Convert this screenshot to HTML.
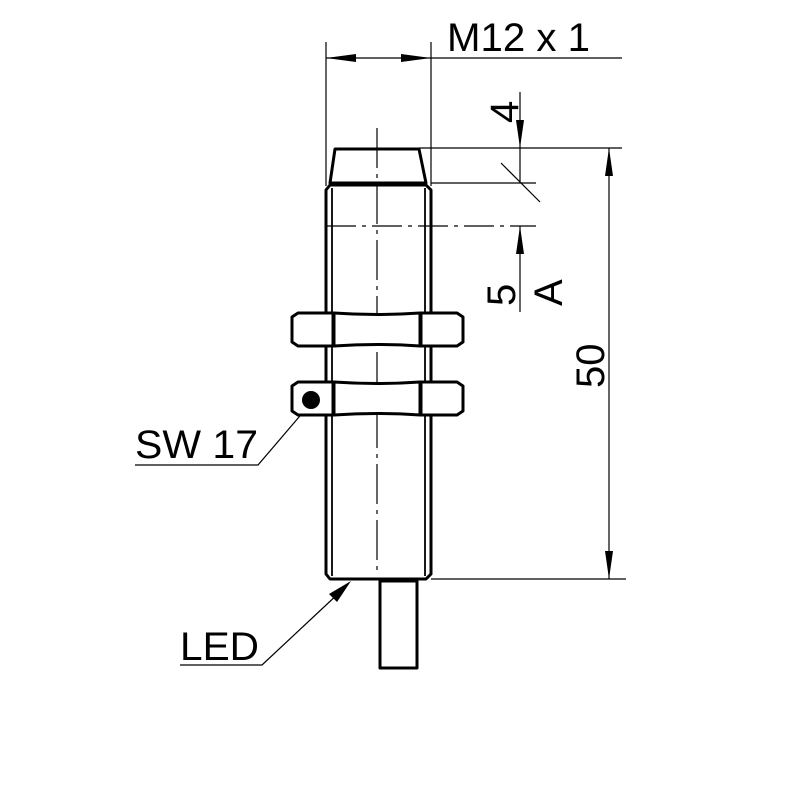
<!DOCTYPE html>
<html><head><style>body{margin:0;background:#fff}</style></head><body>
<svg width="800" height="800" viewBox="0 0 800 800" xmlns="http://www.w3.org/2000/svg" font-family="Liberation Sans, sans-serif">
<g stroke="#000" fill="none" stroke-width="1.2">
<line x1="326" y1="42" x2="326" y2="186"/>
<line x1="431" y1="42" x2="431" y2="186"/>
<line x1="326" y1="58" x2="622" y2="58"/>
<line x1="419" y1="148" x2="622" y2="148"/>
<line x1="431" y1="183" x2="536" y2="183"/>
<line x1="326" y1="226" x2="536" y2="226" stroke-dasharray="30,6,4,6"/>
<line x1="431" y1="579" x2="626" y2="579"/>
<line x1="520" y1="92" x2="520" y2="148"/>
<line x1="520" y1="148" x2="520" y2="183"/>
<line x1="501" y1="163" x2="540" y2="202"/>
<line x1="520" y1="226" x2="520" y2="312"/>
<line x1="609" y1="148" x2="609" y2="579"/>
<line x1="377" y1="128" x2="377" y2="572" stroke-dasharray="40,6,4,6"/>
<polyline points="135,465 258,465 305,410"/>
<polyline points="180,665 262,665 340,592"/>
</g>
<g fill="#000">
<polygon points="326,58 356,54 356,62"/>
<polygon points="431,58 401,54 401,62"/>
<polygon points="520,148 516,120 524,120"/>
<polygon points="520,226 516,254 524,254"/>
<polygon points="609,148 605,176 613,176"/>
<polygon points="609,579 605,551 613,551"/>
<polygon points="351,581 329,594 337,602"/>
</g>
<g stroke="#000" fill="none" stroke-width="3" stroke-linejoin="round">
<path d="M330,183 L335,149 L419,149 L426,183 Z"/>
<path d="M330,185 L426,185 L431,190 L431,574 L426,579 L330,579 L326,574 L326,190 Z"/>
<line x1="332" y1="188" x2="332" y2="576" stroke-width="1.8"/>
<line x1="425" y1="188" x2="425" y2="576" stroke-width="1.8"/>
<g fill="#fff">
<path d="M298,313 L333,313 L333,346 L298,346 L292,342 L292,317 Z"/>
<path d="M334,313 Q377,316 420,313 L420,346 Q377,343 334,346 Z"/>
<path d="M421,313 L457,313 L463,317 L463,342 L457,346 L421,346 Z"/>
<path d="M298,382 L333,382 L333,415 L298,415 L292,411 L292,386 Z"/>
<path d="M334,382 Q377,385 420,382 L420,415 Q377,412 334,415 Z"/>
<path d="M421,382 L457,382 L463,386 L463,411 L457,415 L421,415 Z"/>
</g>
<rect x="380" y="581" width="37" height="87" fill="#fff"/>
</g>
<circle cx="311" cy="400" r="9" fill="#000"/>
<g fill="#000" font-size="40">
<text x="447" y="51" textLength="143" lengthAdjust="spacingAndGlyphs">M12 x 1</text>
<text x="135" y="458" textLength="123" lengthAdjust="spacingAndGlyphs">SW 17</text>
<text x="180" y="660" textLength="79" lengthAdjust="spacingAndGlyphs">LED</text>
<text transform="translate(518,123) rotate(-90)">4</text>
<text transform="translate(515,306) rotate(-90)">5</text>
<text transform="translate(562,306) rotate(-90)">A</text>
<text transform="translate(604,388) rotate(-90)">50</text>
</g>
</svg>
</body></html>
